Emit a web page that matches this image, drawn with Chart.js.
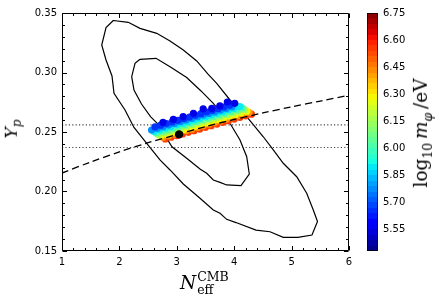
<!DOCTYPE html>
<html><head><meta charset="utf-8">
<script src="https://cdn.jsdelivr.net/npm/chart.js@4.4.0/dist/chart.umd.min.js"></script>
<style>
html,body{margin:0;padding:0;background:#fff;}
#wrap{position:relative;width:443px;height:303px;overflow:hidden;background:#fff;}
#c1{position:absolute;left:0;top:0;}
#c2{position:absolute;left:340px;top:0;}
.lbl{position:absolute;font-family:'DejaVu Serif',serif;color:#000;white-space:nowrap;line-height:1;}
.ss{display:inline-flex;flex-direction:column;vertical-align:middle;line-height:1.0;margin-left:1px;}
</style></head><body>
<div id="wrap">
<canvas id="c1" width="443" height="303"></canvas>
<canvas id="c2" width="103" height="303"></canvas>
<div class="lbl" id="ylab" style="left:13px;top:129px;font-size:17px;transform:translate(-50%,-50%) rotate(-90deg);"><i>Y</i><sub style="font-size:12px;"><i>p</i></sub></div>
<div class="lbl" id="xlab" style="left:180px;top:271px;font-size:18.5px;"><i>N</i><span class="ss" style="font-size:12.5px;"><span>CMB</span><span>eff</span></span></div>
<div class="lbl" id="cblab" style="left:423px;top:133px;font-size:18.5px;transform:translate(-50%,-50%) rotate(-90deg);">log<sub style="font-size:12.5px;">10</sub>&thinsp;<i>m</i><sub style="font-size:12.5px;"><i>φ</i></sub>&thinsp;/eV</div>
</div>
<script>
// ---- axes ----
const xTicks = [1, 2, 3, 4, 5, 6];
const yTicks = [0.15, 0.20, 0.25, 0.30, 0.35];
const cbTicks = [5.55, 5.70, 5.85, 6.00, 6.15, 6.30, 6.45, 6.60, 6.75];
const cbMin = 5.43, cbMax = 6.75;

// ---- contours (outer ~95%, inner ~68%) ----
const outerX = [1.894,2.155,2.359,2.650,2.882,3.113,3.347,3.544,3.695,3.927,4.218,4.507,4.681,4.855,5.089,5.263,5.378,5.451,5.355,5.111,4.855,4.624,4.380,4.031,3.869,3.753,3.636,3.404,3.113,2.882,2.707,2.476,2.254,2.098,1.906,1.871,1.767,1.692,1.767,1.894];
const outerY = [0.3437,0.3422,0.3371,0.3329,0.3265,0.3189,0.3097,0.2987,0.2909,0.2769,0.2629,0.2460,0.2349,0.2237,0.2124,0.1985,0.1845,0.1748,0.1634,0.1615,0.1615,0.1662,0.1676,0.1739,0.1766,0.1817,0.1845,0.1943,0.2063,0.2181,0.2265,0.2405,0.2538,0.2685,0.2825,0.2971,0.3105,0.3231,0.3378,0.3437];
const innerX = [2.359,2.638,2.882,3.172,3.422,3.636,3.927,4.101,4.218,4.263,4.118,3.869,3.753,3.636,3.521,3.404,3.172,2.916,2.777,2.672,2.542,2.385,2.254,2.214,2.272,2.359];
const innerY = [0.3111,0.3119,0.3049,0.2958,0.2845,0.2741,0.2573,0.2433,0.2292,0.2147,0.2049,0.2055,0.2077,0.2097,0.2153,0.2189,0.2279,0.2376,0.2483,0.2567,0.2629,0.2735,0.2853,0.2965,0.3077,0.3111];

// ---- BBN prediction (dashed) ----
const bbnX = [1, 1.5, 2, 2.5, 3, 3.5, 4, 4.5, 5, 5.5, 6];
const bbnY = [0.2155, 0.2248, 0.2333, 0.2410, 0.2478, 0.2545, 0.2605, 0.2660, 0.2712, 0.2760, 0.2808];

// ---- observational band (dotted) ----
const dottedY = [0.256, 0.237];

// ---- black point ----
const pointX = [3.04];
const pointY = [0.248];

// ---- sample points, coloured by log10 m_phi/eV ----
const scatX = [
 2.80,2.90,3.00,3.10,3.20,3.30,3.40,3.50,3.60,3.70,3.80,3.90,4.00,4.10,4.20,4.30,
 2.76,2.86,2.96,3.06,3.16,3.26,3.36,3.46,3.56,3.66,3.76,3.86,3.96,4.06,4.16,4.26,
 2.72,2.82,2.92,3.02,3.12,3.22,3.32,3.42,3.52,3.62,3.72,3.82,3.92,4.02,4.12,4.22,
 2.68,2.78,2.88,2.98,3.08,3.18,3.28,3.38,3.48,3.58,3.68,3.78,3.88,3.98,4.08,4.18,
 2.64,2.74,2.84,2.94,3.04,3.14,3.24,3.34,3.44,3.54,3.64,3.74,3.84,3.94,4.04,4.14,
 2.60,2.70,2.80,2.90,3.00,3.10,3.20,3.30,3.40,3.50,3.60,3.70,3.80,3.90,4.00,4.10,
 2.56,2.66,2.76,2.86,2.96,3.06,3.16,3.26,3.36,3.46,3.56,3.66,3.76,3.86,3.96,
 2.62,2.72,2.82,2.92,3.02,3.12,3.22,3.32,3.42,3.52,3.62,3.72,3.82,3.92,
 2.76,2.94,3.11,3.29,3.46,3.61,3.75,3.88,4.01
];
const scatY = [
 0.2442,0.2456,0.2470,0.2484,0.2497,0.2511,0.2525,0.2539,0.2553,0.2567,0.2581,0.2595,0.2609,0.2623,0.2636,0.2650,
 0.2454,0.2468,0.2482,0.2496,0.2510,0.2524,0.2538,0.2552,0.2566,0.2579,0.2593,0.2607,0.2621,0.2635,0.2649,0.2663,
 0.2467,0.2481,0.2495,0.2508,0.2522,0.2536,0.2550,0.2564,0.2578,0.2592,0.2606,0.2620,0.2634,0.2647,0.2661,0.2675,
 0.2479,0.2493,0.2507,0.2521,0.2535,0.2549,0.2563,0.2577,0.2590,0.2604,0.2618,0.2632,0.2646,0.2660,0.2674,0.2688,
 0.2492,0.2506,0.2519,0.2533,0.2547,0.2561,0.2575,0.2589,0.2603,0.2617,0.2631,0.2645,0.2658,0.2672,0.2686,0.2700,
 0.2504,0.2518,0.2532,0.2546,0.2560,0.2574,0.2587,0.2601,0.2615,0.2629,0.2643,0.2657,0.2671,0.2685,0.2699,0.2713,
 0.2517,0.2530,0.2544,0.2558,0.2572,0.2586,0.2600,0.2614,0.2628,0.2642,0.2656,0.2669,0.2683,0.2697,0.2711,
 0.2543,0.2557,0.2571,0.2585,0.2598,0.2612,0.2626,0.2640,0.2654,0.2668,0.2682,0.2696,0.2710,0.2724,
 0.2581,0.2606,0.2630,0.2657,0.2695,0.2699,0.2719,0.2752,0.2741
];
const scatM = [
 6.55,6.55,6.55,6.55,6.55,6.55,6.55,6.55,6.55,6.55,6.55,6.55,6.55,6.55,6.55,6.55,
 6.42,6.42,6.42,6.42,6.42,6.42,6.42,6.42,6.42,6.42,6.42,6.42,6.42,6.42,6.42,6.42,
 6.28,6.28,6.28,6.28,6.28,6.28,6.28,6.28,6.28,6.28,6.28,6.28,6.28,6.28,6.28,6.28,
 6.15,6.15,6.15,6.15,6.15,6.15,6.15,6.15,6.15,6.15,6.15,6.15,6.15,6.15,6.15,6.15,
 6.02,6.02,6.02,6.02,6.02,6.02,6.02,6.02,6.02,6.02,6.02,6.02,6.02,6.02,6.02,6.02,
 5.90,5.90,5.90,5.90,5.90,5.90,5.90,5.90,5.90,5.90,5.90,5.90,5.90,5.90,5.90,5.90,
 5.78,5.78,5.78,5.78,5.78,5.78,5.78,5.78,5.78,5.78,5.78,5.78,5.78,5.78,5.78,
 5.66,5.66,5.66,5.66,5.66,5.66,5.66,5.66,5.66,5.66,5.66,5.66,5.66,5.66,
 5.55,5.55,5.55,5.55,5.55,5.55,5.55,5.55,5.55
];

// ---- styling helpers ----
const xMinorStep = 0.2, yMinorStep = 0.01;
function interp(t, xs, ys){
  for(let i=1;i<xs.length;i++){ if(t<=xs[i]){ const f=(t-xs[i-1])/(xs[i]-xs[i-1]); return ys[i-1]+f*(ys[i]-ys[i-1]); } }
  return ys[ys.length-1];
}
function jet(t){
  t=Math.max(0,Math.min(1,t));
  const r=interp(t,[0,0.35,0.66,0.89,1],[0,0,1,1,0.5]);
  const g=interp(t,[0,0.125,0.375,0.64,0.91,1],[0,0,1,1,0,0]);
  const b=interp(t,[0,0.11,0.34,0.65,1],[0.5,1,1,0,0]);
  return 'rgb('+Math.round(r*255)+','+Math.round(g*255)+','+Math.round(b*255)+')';
}
const mColor = m => jet((m-cbMin)/(cbMax-cbMin));
const xy = (xs, ys) => xs.map((x,i)=>({x:x, y:ys[i]}));
const tickFont = {family:'DejaVu Sans', size:10};
const noGrid = {display:false, drawTicks:false};

const axesDecor = {
  id:'axesDecor',
  afterDraw(chart){
    const {ctx, chartArea:a, scales:{x,y}} = chart;
    ctx.save();
    ctx.strokeStyle='#000'; ctx.lineWidth=1;
    const L=Math.round(a.left)+0.5, R=Math.round(a.right)-0.5, T=Math.round(a.top)+0.5, B=Math.round(a.bottom)-0.5;
    ctx.beginPath(); ctx.rect(L,T,R-L,B-T); ctx.stroke();
    ctx.beginPath();
    const nx=Math.round((xTicks[xTicks.length-1]-xTicks[0])/xMinorStep);
    for(let i=0;i<=nx;i++){
      const v=xTicks[0]+i*xMinorStep; const len=(i%5===0)?4.5:2.5;
      const p=Math.round(x.getPixelForValue(v))+0.5;
      ctx.moveTo(p,B); ctx.lineTo(p,B-len); ctx.moveTo(p,T); ctx.lineTo(p,T+len);
    }
    const ny=Math.round((yTicks[yTicks.length-1]-yTicks[0])/yMinorStep);
    for(let i=0;i<=ny;i++){
      const v=yTicks[0]+i*yMinorStep; const len=(i%5===0)?4.5:2.5;
      const p=Math.round(y.getPixelForValue(v))+0.5;
      ctx.moveTo(L,p); ctx.lineTo(L+len,p); ctx.moveTo(R,p); ctx.lineTo(R-len,p);
    }
    ctx.stroke();
    ctx.restore();
  }
};

const lineDs = (data, extra) => Object.assign({data:data, showLine:true, pointRadius:0, borderColor:'#000', borderWidth:1.2, fill:false, tension:0}, extra);

new Chart(document.getElementById('c1'), {
  type:'scatter',
  data:{datasets:[
    {data:xy(pointX,pointY), pointRadius:4.2, backgroundColor:'#000', borderWidth:0, order:0},
    lineDs(xy(bbnX,bbnY), {borderWidth:1.3, borderDash:[7,4], tension:0.3, order:1}),
    {data:xy(scatX,scatY), pointRadius:3.6, pointBackgroundColor:scatM.map(mColor), pointBorderWidth:0, borderWidth:0, order:2},
    lineDs([{x:xTicks[0],y:dottedY[0]},{x:xTicks[xTicks.length-1],y:dottedY[0]}], {borderWidth:1.1, borderColor:'#444', borderDash:[1.2,2.2], order:3}),
    lineDs([{x:xTicks[0],y:dottedY[1]},{x:xTicks[xTicks.length-1],y:dottedY[1]}], {borderWidth:1.1, borderColor:'#444', borderDash:[1.2,2.2], order:3}),
    lineDs(xy(outerX,outerY), {order:4}),
    lineDs(xy(innerX,innerY), {order:4})
  ]},
  options:{
    responsive:false, animation:false, events:[],
    layout:{padding:{left:0, top:13, right:94, bottom:0}},
    plugins:{legend:{display:false}, tooltip:{enabled:false}},
    scales:{
      x:{type:'linear', min:xTicks[0], max:xTicks[xTicks.length-1],
         afterBuildTicks:s=>{s.ticks=xTicks.map(v=>({value:v}));},
         afterFit:s=>{s.height=52;},
         grid:noGrid, border:{display:false},
         ticks:{autoSkip:false, maxRotation:0, padding:5, color:'#000', font:tickFont, callback:v=>String(v)}},
      y:{type:'linear', min:yTicks[0], max:yTicks[yTicks.length-1],
         afterBuildTicks:s=>{s.ticks=yTicks.map(v=>({value:v}));},
         afterFit:s=>{s.width=62;},
         grid:noGrid, border:{display:false},
         ticks:{autoSkip:false, padding:5, color:'#000', font:tickFont, callback:v=>Number(v).toFixed(2)}}
    }
  },
  plugins:[axesDecor]
});

function cbGradient(chart){
  const a=chart.chartArea; if(!a) return '#888';
  const ys=chart.scales.y;
  const y0=ys.getPixelForValue(cbMin), y1=ys.getPixelForValue(cbMax);
  const g=chart.ctx.createLinearGradient(0,y0,0,y1);
  const N=44;
  for(let i=0;i<N;i++){
    const c=jet((i+0.5)/N);
    g.addColorStop(i/N,c); g.addColorStop((i+1)/N,c);
  }
  return g;
}

new Chart(document.getElementById('c2'), {
  type:'bar',
  data:{labels:[''], datasets:[{data:[[cbMin,cbMax]], backgroundColor:ctx=>cbGradient(ctx.chart), borderColor:'#000', borderWidth:1, borderSkipped:false, barPercentage:1, categoryPercentage:1}]},
  options:{
    responsive:false, animation:false, events:[],
    layout:{padding:{left:27, top:13, bottom:52, right:0}},
    plugins:{legend:{display:false}, tooltip:{enabled:false}},
    scales:{
      x:{display:false},
      y:{position:'right', min:cbMin, max:cbMax,
         afterBuildTicks:s=>{s.ticks=cbTicks.map(v=>({value:v}));},
         afterFit:s=>{s.width=65;},
         grid:noGrid, border:{display:false},
         ticks:{autoSkip:false, padding:5, color:'#000', font:tickFont, callback:v=>Number(v).toFixed(2)}}
    }
  }
});
</script>
</body></html>
